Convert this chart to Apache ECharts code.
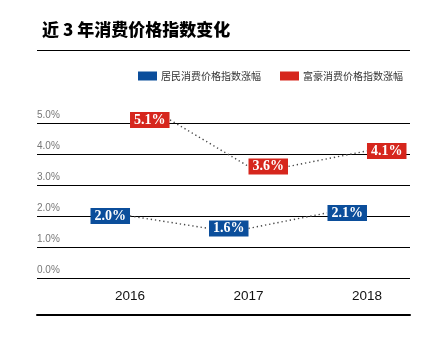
<!DOCTYPE html>
<html><head><meta charset="utf-8">
<script src="https://cdn.jsdelivr.net/npm/echarts@6/dist/echarts.min.js"></script>
<style>html,body{margin:0;padding:0;background:#fff}#c{width:444px;height:341px}</style>
</head><body><div id="c"></div>
<script>
const titleText = '近 3 年消费价格指数变化';
const years = [2016, 2017, 2018];
const seriesNames = ['居民消费价格指数涨幅', '富豪消费价格指数涨幅'];
const residentValues = [2.0, 1.6, 2.1];
const richValues = [5.1, 3.6, 4.1];
const yTicks = [0, 1, 2, 3, 4, 5];

const BLUE = '#0b4e9b';
const RED = '#d6261d';
const BOX_W = 40;

const chart = echarts.init(document.getElementById('c'), null, {renderer: 'canvas'});

function pts(vals) { return years.map((y, i) => [y, vals[i]]); }
function segs(vals) {
  const out = [];
  for (let i = 0; i < years.length - 1; i++) out.push([years[i], vals[i], years[i + 1], vals[i + 1]]);
  return out;
}
function connector(side) {
  return function (params, api) {
    const p1 = api.coord([api.value(0), api.value(1)]);
    const p2 = api.coord([api.value(2), api.value(3)]);
    let x1 = p1[0], x2 = p2[0];
    if (side === 'left') { x2 = p2[0] - BOX_W; } else { x1 = p1[0] + BOX_W; }
    return {
      type: 'line',
      shape: {x1: x1, y1: p1[1], x2: x2, y2: p2[1]},
      style: {stroke: '#444', lineWidth: 1.4, lineDash: [1.3, 2.9]}
    };
  };
}
function labelCfg(color, pos) {
  return {
    show: true, position: pos, distance: 0,
    formatter: p => p.value[1].toFixed(1) + '%',
    color: '#fff', backgroundColor: color,
    fontFamily: '"Liberation Serif", serif', fontWeight: 'bold', fontSize: 14,
    lineHeight: 15, padding: [1, 4, 0, 4]
  };
}

const xRange = {min: 2015.215, max: 2018.363};

chart.setOption({
  animation: false,
  title: {
    text: titleText, left: 37, top: 16,
    textStyle: {fontFamily: '"Noto Sans CJK SC"', fontSize: 17, fontWeight: 900, color: '#000'}
  },
  graphic: [{
    type: 'line', shape: {x1: 37, y1: 50.5, x2: 410, y2: 50.5},
    style: {stroke: '#000', lineWidth: 1}
  }],
  legend: {
    data: seriesNames, right: 36, top: 66, icon: 'rect',
    itemWidth: 19, itemHeight: 9, itemGap: 19,
    itemStyle: {opacity: 1},
    textStyle: {fontFamily: '"Noto Sans CJK SC"', fontSize: 10, color: '#333', padding: [0, 0, 0, -1]}
  },
  grid: {left: 37, right: 34, top: 123, bottom: 63},
  xAxis: [{
    type: 'value', position: 'bottom', min: xRange.min, max: xRange.max,
    axisLine: {show: false}, axisTick: {show: false}, splitLine: {show: false},
    axisLabel: {
      customValues: years, margin: 11, formatter: v => String(v),
      fontFamily: '"Liberation Sans Narrow", "Arial Narrow", "Liberation Sans", sans-serif', fontSize: 13.5, color: '#111'
    }
  }, {
    type: 'value', position: 'bottom', offset: 37, min: xRange.min, max: xRange.max,
    axisLine: {show: true, onZero: false, lineStyle: {color: '#000', width: 2}},
    axisTick: {show: false}, axisLabel: {show: false}, splitLine: {show: false}
  }],
  yAxis: {
    type: 'value', min: yTicks[0], max: yTicks[yTicks.length - 1], interval: 1,
    axisLine: {show: false}, axisTick: {show: false},
    splitLine: {show: true, lineStyle: {color: '#000', width: 1}},
    axisLabel: {
      inside: true, margin: 0, verticalAlign: 'bottom', padding: [0, 0, 3, 0],
      formatter: v => v.toFixed(1) + '%',
      fontFamily: '"Liberation Sans", Arial, sans-serif', fontSize: 10, color: '#777'
    }
  },
  series: [
    {name: 'c1', type: 'custom', renderItem: connector('left'), data: segs(residentValues),
     encode: {x: [0, 2], y: [1, 3]}, z: 2, silent: true, clip: false},
    {name: 'c2', type: 'custom', renderItem: connector('right'), data: segs(richValues),
     encode: {x: [0, 2], y: [1, 3]}, z: 2, silent: true, clip: false},
    {name: seriesNames[0], type: 'scatter', symbolSize: 0, data: pts(residentValues), clip: false,
     itemStyle: {color: BLUE, opacity: 1}, label: labelCfg(BLUE, 'left'), z: 5},
    {name: seriesNames[1], type: 'scatter', symbolSize: 0, data: pts(richValues), clip: false,
     itemStyle: {color: RED, opacity: 1}, label: labelCfg(RED, 'right'), z: 5}
  ]
});
</script></body></html>
